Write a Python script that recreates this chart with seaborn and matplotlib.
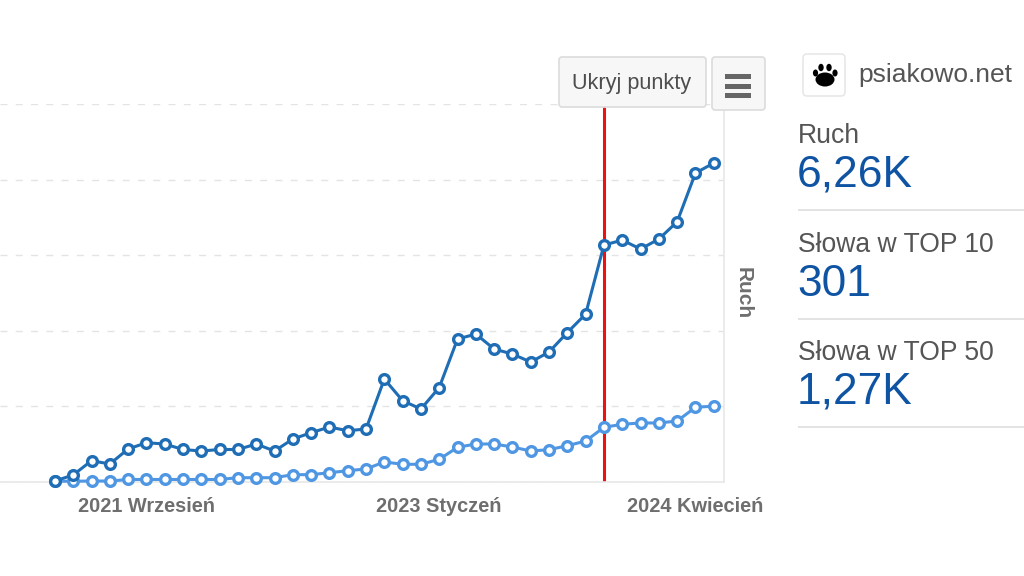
import matplotlib
matplotlib.use("Agg")
import matplotlib.pyplot as plt
import seaborn as sns
import pandas as pd
from matplotlib.patches import FancyBboxPatch, Ellipse, Rectangle
from matplotlib.transforms import ScaledTranslation

# ---- data ----
ruch = [10, 128, 409, 344, 639, 762, 737, 629, 599, 629, 629, 737, 599, 835, 959, 1071, 998, 1032, 2014,
        1588, 1425, 1847, 2800, 2898, 2604, 2505, 2348, 2545, 2928, 3291, 4647, 4745, 4569, 4765, 5105, 6062, 6260]
top50 = [5, 5, 8, 8, 34, 34, 34, 34, 34, 34, 64, 64, 64, 115, 115, 148, 182, 211, 329,
         290, 290, 374, 576, 632, 632, 581, 514, 536, 603, 682, 913, 964, 986, 986, 1019, 1250, 1270]
months = list(range(len(ruch)))
tick_months = [5, 21, 36]
tick_labels = ["2021 Wrzesień", "2023 Styczeń", "2024 Kwiecień"]
marker_month = 30
ruch_top = 7420
top50_top = 6360
top50_ticks = [0, 1272, 2544, 3816, 5088, 6360]
stats = [("Ruch", "6,26K"), ("Słowa w TOP 10", "301"), ("Słowa w TOP 50", "1,27K")]

sns.set_theme(style="white")
plt.rcParams["font.family"] = ["Liberation Sans", "DejaVu Sans"]

W, H = 1024, 576
fig = plt.figure(figsize=(W / 100, H / 100), dpi=100, facecolor="white")

# plot region in pixels: x 0..724, y 104..481.5
ax = fig.add_axes([0, (H - 481.5) / H, 724 / W, 377.5 / H])
ax.set_facecolor("none")
df = pd.DataFrame({"m": months, "ruch": ruch, "top50": top50})

ax.axvline(marker_month, color="#ee1111", lw=2.2, zorder=1, ymax=0.99)
marker_style = dict(marker="o", markersize=7.0, markerfacecolor="white", markeredgewidth=2.4, linewidth=2.2, clip_on=False)
sns.lineplot(data=df, x="m", y="top50", ax=ax, color="#4f97e3", markeredgecolor="#4f97e3", zorder=3, **marker_style)
ax.set_xlim(-3.0, 36.56)
ax.set_ylim(0, top50_top)
ax.set_yticks(top50_ticks)
ax.set_yticklabels([])
ax.grid(axis="y", color="#e4e4e4", lw=1, linestyle=(0, (5, 6)))
ax.grid(axis="x", visible=False)
ax.set_axisbelow(True)
ax.set_xlabel("")
ax.set_ylabel("")
ax.set_xticks(tick_months)
ax.set_xticklabels(tick_labels, fontsize=14.4, fontweight="bold", color="#6e6e6e")
ax.tick_params(axis="x", length=0, pad=11)
ax.tick_params(axis="y", length=0)
for s in ["left", "top"]:
    ax.spines[s].set_visible(False)
for s in ["bottom", "right"]:
    ax.spines[s].set_color("#e8e8e8")
    ax.spines[s].set_linewidth(1.2)
last = ax.get_xticklabels()[-1]
last.set_transform(last.get_transform() + ScaledTranslation(-0.19, 0, fig.dpi_scale_trans))

ax2 = ax.twinx()
ax2.patch.set_visible(False)
sns.lineplot(data=df, x="m", y="ruch", ax=ax2, color="#1f6db5", markeredgecolor="#1f6db5", zorder=3, **marker_style)
ax2.set_ylim(0, ruch_top)
ax2.set_yticks([])
ax2.set_ylabel("")
for s in ax2.spines.values():
    s.set_visible(False)

# overlay in pixel coordinates for the page furniture
ov = fig.add_axes([0, 0, 1, 1], zorder=5)
ov.set_xlim(0, W)
ov.set_ylim(H, 0)
ov.axis("off")
ov.patch.set_visible(False)

def button(x0, y0, x1, y1):
    ov.add_patch(FancyBboxPatch((x0 + 2, y0 + 2), x1 - x0 - 4, y1 - y0 - 4, boxstyle="round,pad=2,rounding_size=3",
                                fc="#f7f7f7", ec="#dcdcdc", lw=1.2))

button(559, 57, 706, 107)
ov.text(632, 83.5, "Ukryj punkty", ha="center", va="center", fontsize=15.6, color="#4d4d4d")
button(712, 57, 765, 110)
for y in (74, 84, 93):
    ov.add_patch(Rectangle((725, y), 26, 5, fc="#666666", ec="none"))

ov.text(743, 293, "Ruch", rotation=270, ha="center", va="center", fontsize=15, fontweight="bold", color="#6e6e6e")

# site header
ov.add_patch(FancyBboxPatch((805, 56), 38, 38, boxstyle="round,pad=2,rounding_size=4", fc="white", ec="#e6e6e6", lw=1.1))
ov.add_patch(Ellipse((825, 79.5), 19, 14, fc="black", ec="none"))
for cx, cy, w, h in [(815.5, 73, 5.2, 7), (821, 67.5, 5.4, 7.4), (829, 67.5, 5.4, 7.4), (835, 73, 5.2, 7)]:
    ov.add_patch(Ellipse((cx, cy), w, h, fc="black", ec="none"))
ov.text(858, 75, "psiakowo.net", ha="left", va="center", fontsize=19, color="#555555")

# stat blocks
label_y = [136, 245, 353]
value_y = [175, 284, 392]
rule_y = [209.5, 318.5, 426.5]
for (lab, val), ly, vy, ry in zip(stats, label_y, value_y, rule_y):
    ov.text(798, ly, lab, ha="left", va="center", fontsize=19.1, color="#555555")
    ov.text(797, vy, val, ha="left", va="center", fontsize=31.9, color="#0f53a3")
    ov.plot([798, 1024], [ry, ry], color="#e0e0e0", lw=1.3, solid_capstyle="butt")

fig.savefig("out.png", dpi=100, facecolor="white")
